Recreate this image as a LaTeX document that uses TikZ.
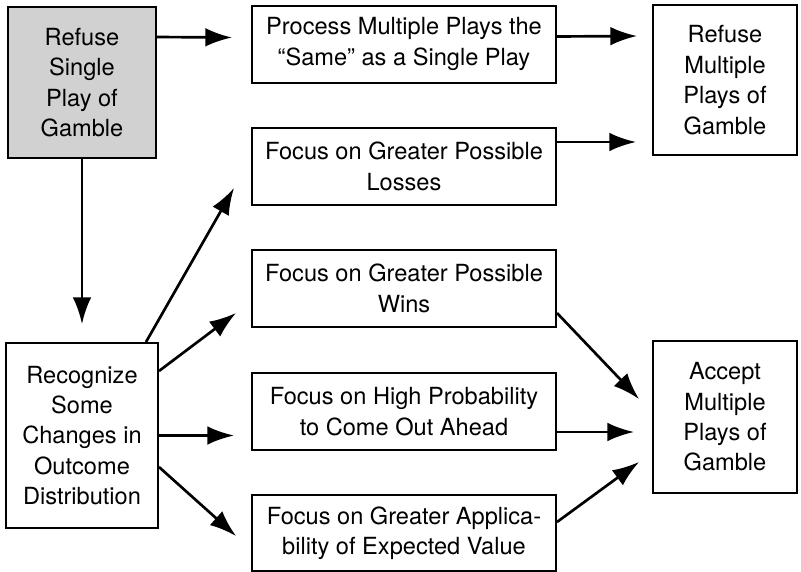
\documentclass[tikz,border=0pt]{standalone}
\usepackage{fontspec}
\setmainfont{TeX Gyre Heros}
\usetikzlibrary{arrows.meta,calc}
\begin{document}
\begin{tikzpicture}[x=0.75pt,y=-0.75pt,
  box/.style={draw=black, line width=1.5pt, align=center, inner sep=0pt,
    font=\fontsize{17.7}{22.8}\selectfont},
  wide/.style={box, minimum width=228pt, minimum height=57.75pt},
  tall/.style={box, minimum width=108pt, minimum height=113pt},
  shaded/.style={fill=black!18},
  arr/.style={line width=2pt, -{Latex[length=20pt,width=14pt]}}]
\useasboundingbox (0,0) rectangle (801,572);

\node[box, shaded, minimum width=111pt, minimum height=113.25pt] (A) at (82,82.5)
  {Refuse\\Single\\Play of\\Gamble};
\node[box, minimum width=114pt, minimum height=138.75pt] (D) at (82,435.5)
  {Recognize\\Some\\Changes in\\Outcome\\Distribution};

\node[wide] (B) at (404,44) {Process Multiple Plays the\\“Same” as a Single Play};
\node[wide] (C) at (404,166.5) {Focus on Greater Possible\\Losses};
\node[wide] (E) at (404,288.5) {Focus on Greater Possible\\Wins};
\node[wide] (F) at (404,411.5) {Focus on High Probability\\to Come Out Ahead};
\node[wide, minimum height=57pt] (G) at (404,533) {Focus on Greater Applica-\\bility of Expected Value};

\node[tall, minimum height=112.5pt] (RM) at (725,80) {Refuse\\Multiple\\Plays of\\Gamble};
\node[tall, minimum height=114pt] (H) at (725,417) {Accept\\Multiple\\Plays of\\Gamble};

\draw[arr] ($(A.north east)+(0,31)$) -- ($(B.north west)+(-19,33)$);
\draw[arr] (A.south) -- ($(D.north)+(0,-18)$);
\draw[arr] ($(B.north east)+(0,32)$) -- ($(RM.north west)+(-15,32)$);
\draw[arr] ($(C.north east)+(0,15)$) -- ($(RM.north west)+(-16,138)$);
\draw[arr] ($(D.north east)+(-13,0)$) -- ($(C.south west)+(-17,-18)$);
\draw[arr] ($(D.north east)+(0,29)$) -- ($(E.south west)+(-15,-15)$);
\draw[arr] (D.east) -- ($(D.east -| F.west)+(-17,0)$);
\draw[arr] ($(D.north east)+(0,125)$) -- ($(G.north west)+(-15,42)$);
\draw[arr] ($(E.south east)+(0,-15)$) -- ($(H.north west)+(-13,59)$);
\draw[arr] ($(F.north east)+(0,60)$) -- ($(H.north west)+(-18,92)$);
\draw[arr] ($(G.north east)+(0,28)$) -- ($(H.north west)+(-13,122)$);
\end{tikzpicture}
\end{document}
